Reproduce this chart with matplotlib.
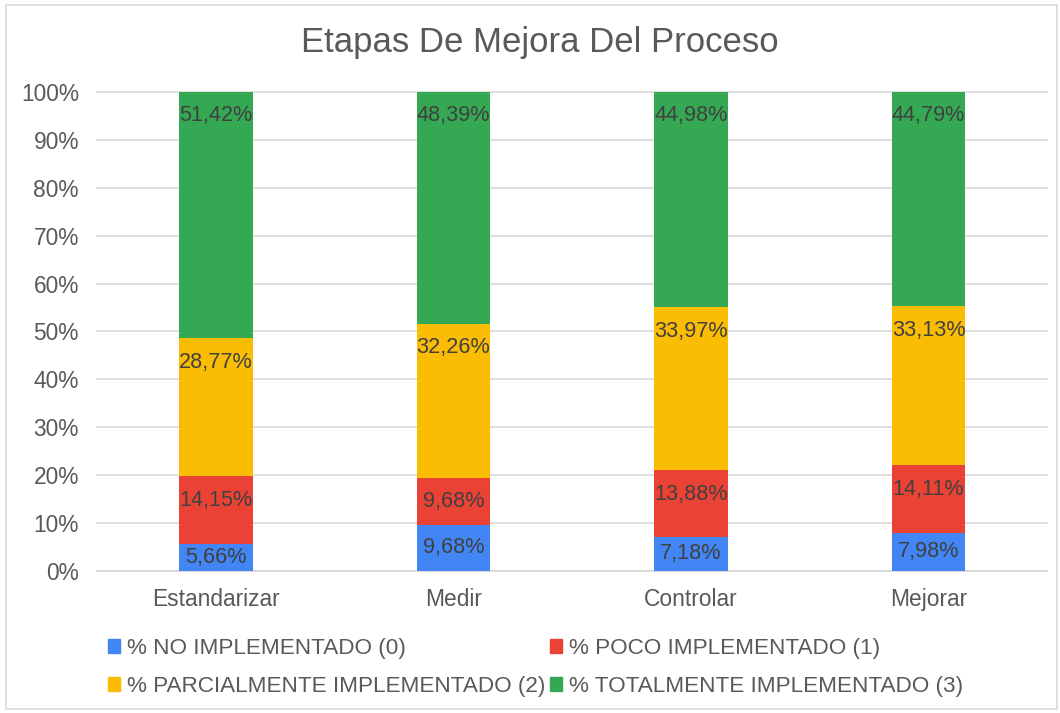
import matplotlib.pyplot as plt
from matplotlib.patches import Rectangle, Patch
import numpy as np

plt.rcParams['font.family'] = ['Liberation Sans', 'DejaVu Sans']

categories = ['Estandarizar', 'Medir', 'Controlar', 'Mejorar']
series_names = ['% NO IMPLEMENTADO (0)', '% POCO IMPLEMENTADO (1)',
                '% PARCIALMENTE IMPLEMENTADO (2)', '% TOTALMENTE IMPLEMENTADO (3)']
no_impl = [5.66, 9.68, 7.18, 7.98]
poco_impl = [14.15, 9.68, 13.88, 14.11]
parcial_impl = [28.77, 32.26, 33.97, 33.13]
total_impl = [51.42, 48.39, 44.98, 44.79]
colors = ['#4285F4', '#EA4335', '#FBBC04', '#34A853']

fig = plt.figure(figsize=(10.6, 7.13), dpi=100)
ax = fig.add_axes([0.0915, 0.1992, 0.8965, 0.6718])

x = np.arange(len(categories))
bottom = np.zeros(len(categories))
# pixels per data unit, to keep labels inside short segments
px_per_unit = 0.6718 * 713

for vals, col, name in zip([no_impl, poco_impl, parcial_impl, total_impl], colors, series_names):
    v = np.array(vals) / 100.0
    ax.bar(x, v, 0.31, bottom=bottom, color=col, label=name, zorder=3)
    for xi, bi, vi, raw in zip(x, bottom, v, vals):
        off = min(24, vi * px_per_unit / 2)
        ax.annotate(f"{raw:.2f}".replace('.', ',') + '%', (xi, bi + vi),
                    xytext=(0, -off), textcoords='offset pixels',
                    ha='center', va='center', fontsize=15.6, color='#404040', zorder=4)
    bottom = bottom + v

ax.set_xlim(-0.5, len(categories) - 0.5)
ax.set_ylim(0, 1)
ticks = np.arange(0, 1.01, 0.1)
ax.set_yticks(ticks)
ax.set_yticklabels([f"{int(round(t * 100))}%" for t in ticks])
ax.set_xticks(x)
ax.set_xticklabels(categories)
ax.tick_params(axis='both', length=0, labelsize=16.4, colors='#595959')
ax.tick_params(axis='x', pad=12)
ax.tick_params(axis='y', pad=13)
ax.grid(axis='y', color='#d9d9d9', linewidth=1.2, zorder=0, clip_on=False)
for s in ['top', 'right', 'left']:
    ax.spines[s].set_visible(False)
ax.spines['bottom'].set_color('#d9d9d9')
ax.spines['bottom'].set_linewidth(1.2)

fig.text(0.509, 0.941, 'Etapas De Mejora Del Proceso', ha='center', va='center',
         fontsize=25, color='#595959')

handles = [Patch(color=c) for c in colors]
order = [0, 2, 1, 3]
fig.legend([handles[i] for i in order], [series_names[i] for i in order],
           ncol=2, loc='upper left', bbox_to_anchor=(0.093, 0.118),
           frameon=False, fontsize=16.2, labelcolor='#595959',
           handlelength=0.55, handleheight=0.55, handletextpad=0.3,
           columnspacing=0.2, labelspacing=0.75, borderaxespad=0)

fig.patches.append(Rectangle((0.0057, 0.006), 0.9915, 0.987, transform=fig.transFigure,
                             fill=False, edgecolor='#d9d9d9', linewidth=1.2))

fig.savefig('out.png', dpi=100)
